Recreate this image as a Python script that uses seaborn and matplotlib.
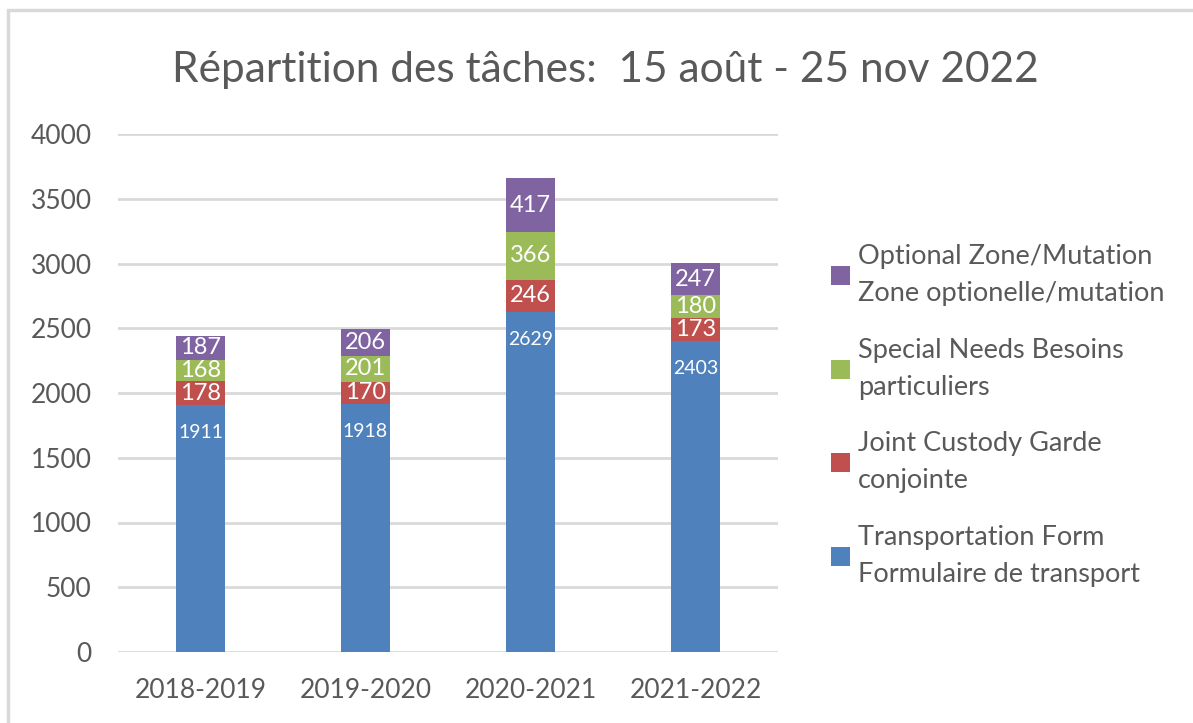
import numpy as np
import pandas as pd
import matplotlib.pyplot as plt
from matplotlib.patches import Rectangle
import seaborn as sns

# Data
years = ["2018-2019", "2019-2020", "2020-2021", "2021-2022"]
transport = [1911, 1918, 2629, 2403]
joint = [178, 170, 246, 173]
special = [168, 201, 366, 180]
optional = [187, 206, 417, 247]

series_names = [
    "Transportation Form\nFormulaire de transport",
    "Joint Custody Garde\nconjointe",
    "Special Needs Besoins\nparticuliers",
    "Optional Zone/Mutation\nZone optionelle/mutation",
]
series_values = [transport, joint, special, optional]
colors = ["#4F81BD", "#C0504D", "#9BBB59", "#8064A2"]

sns.set_theme(style="white")
plt.rcParams["font.family"] = ["Lato", "DejaVu Sans"]
text_color = "#595959"
grid_color = "#D9D9D9"

fig = plt.figure(figsize=(11.93, 7.23), dpi=100)
ax = fig.add_axes([118 / 1193, 71 / 723, 660 / 1193, 518 / 723])

# stacked bars: draw cumulative totals from the top layer down
cum = np.cumsum(np.array(series_values), axis=0)
for i in range(len(series_names) - 1, -1, -1):
    df = pd.DataFrame({"year": years, "value": cum[i]})
    sns.barplot(data=df, x="year", y="value", color=colors[i], width=0.3,
                saturation=1, label=series_names[i], ax=ax, linewidth=0)

# value labels
for i in range(len(series_names)):
    for j, v in enumerate(series_values[i]):
        top = cum[i][j]
        if i == 0:
            ax.text(j, top - 216, str(v), ha="center", va="center",
                    color="white", fontsize=14)
        else:
            ax.text(j, top - v / 2, str(v), ha="center", va="center",
                    color="white", fontsize=17)

ax.set_ylim(0, 4000)
ax.set_xlim(-0.5, 3.5)
ax.set_yticks(range(0, 4001, 500))
ax.set_xlabel("")
ax.set_ylabel("")
ax.yaxis.grid(True, color=grid_color, linewidth=2)
ax.set_axisbelow(True)
sns.despine(ax=ax, left=True, bottom=True)
ax.tick_params(axis="both", length=0, labelsize=19, labelcolor=text_color)
ax.tick_params(axis="y", pad=19)
ax.tick_params(axis="x", pad=19)

handles, labels = ax.get_legend_handles_labels()
if ax.get_legend() is not None:
    ax.get_legend().remove()
leg = fig.legend(handles, labels, loc="upper left",
                 bbox_to_anchor=(820 / 1193, 1 - 233 / 723),
                 frameon=False, fontsize=19.5, labelcolor=text_color,
                 handlelength=0.7, handleheight=0.7, handletextpad=0.3,
                 labelspacing=1.17, borderaxespad=0)
for t in leg.get_texts():
    t.set_linespacing(1.6)

fig.text(605 / 1193, 1 - 70 / 723, "Répartition des tâches:  15 août - 25 nov 2022",
         ha="center", va="center", fontsize=30.5, color=text_color)

# chart area border (only left and top visible in the crop)
fig.patches.append(Rectangle((8 / 1193, -0.1), 1.2, 1 - 10 / 723 + 0.1,
                             transform=fig.transFigure, fill=False,
                             edgecolor=grid_color, linewidth=2.5))

fig.savefig("out.png", dpi=100)
